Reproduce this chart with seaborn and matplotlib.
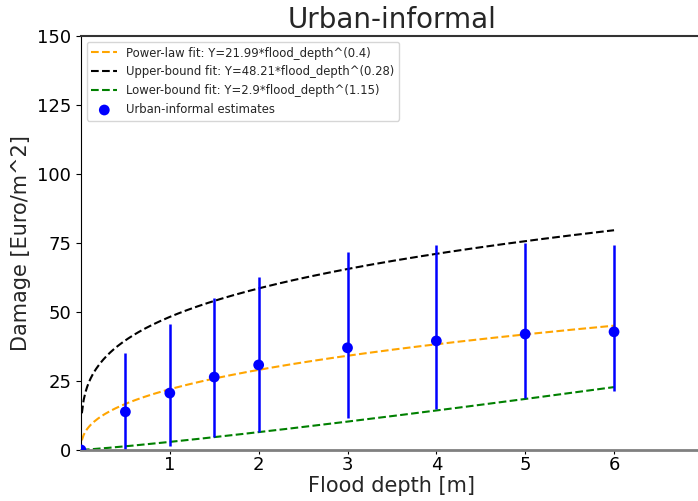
import numpy as np
import pandas as pd
import seaborn as sns
import matplotlib
matplotlib.use('Agg')
import matplotlib.pyplot as plt

# Estimates
depth = [0, 0.5, 1, 1.5, 2, 3, 4, 5, 6]
damage = [0, 13.8, 20.6, 26.4, 30.8, 37.0, 39.5, 42.0, 42.8]
damage_low = [0, 0, 1.5, 4.7, 6.5, 11.6, 14.9, 18.8, 21.4]
damage_high = [0, 35.1, 45.6, 55.0, 62.7, 71.7, 74.3, 75.0, 74.3]

# fit parameters (coefficient, exponent) as printed in the legend
fit_names = ['Power-law fit', 'Upper-bound fit', 'Lower-bound fit']
fit_coef = [21.99, 48.21, 2.9]
fit_exp = [0.4, 0.28, 1.15]
fit_colors = ['orange', 'black', 'green']

sns.set_style('ticks')
plt.rcParams['font.family'] = ['DejaVu Sans']

fig = plt.figure(figsize=(6.98, 5.01), dpi=100)
ax = fig.add_axes([0.116, 0.102, 0.891, 0.826])

xx = np.linspace(0.01, 6, 300)
for name, a, b, c in zip(fit_names, fit_coef, fit_exp, fit_colors):
    df = pd.DataFrame({'x': xx, 'y': a * xx ** b})
    sns.lineplot(data=df, x='x', y='y', ax=ax, color=c, linestyle='--', lw=1.5,
                 label=f'{name}: Y={a}*flood_depth^({b})')

est = pd.DataFrame({'depth': depth, 'damage': damage})
yerr = [np.array(damage) - np.array(damage_low), np.array(damage_high) - np.array(damage)]
ax.errorbar(depth, damage, yerr=yerr, fmt='none', ecolor='blue', elinewidth=1.8)
sns.scatterplot(data=est, x='depth', y='damage', ax=ax, color='blue', s=60,
                edgecolor='none', label='Urban-informal estimates', zorder=5)

ax.set_xlim(0, 7)
ax.set_ylim(0, 150)
ax.set_xticks([1, 2, 3, 4, 5, 6, 7])
ax.set_yticks([0, 25, 50, 75, 100, 125, 150])
ax.tick_params(labelsize=13, colors='black')
ax.tick_params(axis='x', length=3, pad=1.5)
ax.set_xlabel('Flood depth [m]', fontsize=15, labelpad=1)
ax.set_ylabel('Damage [Euro/m^2]', fontsize=15)
ax.set_title('Urban-informal', fontsize=20)
ax.spines['bottom'].set_color('grey')
ax.spines['bottom'].set_linewidth(2)
ax.spines['top'].set_color('#333333')
ax.spines['top'].set_linewidth(1.5)
ax.spines['left'].set_color('black')

ax.legend(loc='upper left', fontsize=8.4, handlelength=2.2)

plt.savefig('out.png', dpi=100)
